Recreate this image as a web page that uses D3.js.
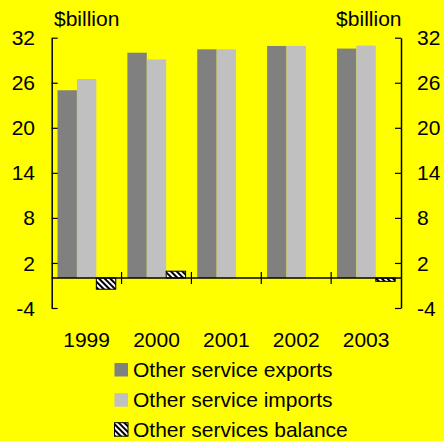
<!DOCTYPE html>
<html>
<head>
<meta charset="utf-8">
<script src="https://cdn.jsdelivr.net/npm/d3@7"></script>
<style>
  html, body { margin: 0; padding: 0; background: #ffff00; }
  svg { display: block; }
  text { font-family: "Liberation Sans", Arial, sans-serif; fill: #000; }
</style>
</head>
<body>
<svg id="chart" width="444" height="441"></svg>
<script>
// Other services trade, $billion
const years = ["1999", "2000", "2001", "2002", "2003"];
const exportsVals = [25.0, 30.0, 30.45, 30.9, 30.55];
const importsVals = [26.5, 29.1, 30.45, 30.9, 30.95];
const balanceVals = [-1.5, 0.9, 0.0, 0.0, -0.45];
const yTicks = [32, 26, 20, 14, 8, 2, -4];
const seriesNames = ["Other service exports", "Other service imports", "Other services balance"];
const seriesKeys = ["exports", "imports", "balance"];

const rows = years.map((yr, i) => ({
  year: yr, exports: exportsVals[i], imports: importsVals[i], balance: balanceVals[i]
}));

const W = 444, H = 441;
const plotLeft = 51.7, plotRight = 401, plotTop = 37.7, plotBottom = 308;
const fs = 21;

const svg = d3.select("#chart");
svg.append("rect").attr("width", W).attr("height", H).attr("fill", "#ffff00");

const defs = svg.append("defs");
const pat = defs.append("pattern")
  .attr("id", "hatch").attr("patternUnits", "userSpaceOnUse")
  .attr("width", 4).attr("height", 4)
  .attr("patternTransform", "rotate(-45)");
pat.append("rect").attr("width", 4).attr("height", 4).attr("fill", "#fff");
pat.append("rect").attr("width", 2).attr("height", 4).attr("fill", "#000");

const y = d3.scaleLinear().domain([-4, 32]).range([plotBottom, plotTop]);
const x = d3.scaleBand().domain(years).range([plotLeft, plotRight]).padding(0);
const xs = d3.scaleBand().domain(seriesKeys).range([0, x.bandwidth()])
  .paddingInner(0).paddingOuter(0.3);

const fills = { exports: "#808080", imports: "#c0c0c0", balance: "url(#hatch)" };

// Bars
const g = svg.append("g");
rows.forEach(r => {
  seriesKeys.forEach(k => {
    const v = r[k];
    if (v === 0) return;
    const rect = g.append("rect")
      .attr("x", x(r.year) + xs(k))
      .attr("width", xs.bandwidth())
      .attr("y", y(Math.max(0, v)))
      .attr("height", Math.abs(y(v) - y(0)))
      .attr("fill", fills[k]);
    if (k === "balance") rect.attr("stroke", "#000").attr("stroke-width", 1);
  });
});

// Zero line and category separators
svg.append("line")
  .attr("x1", plotLeft).attr("x2", plotRight).attr("y1", y(0)).attr("y2", y(0))
  .attr("stroke", "#000").attr("stroke-width", 1.5);
years.slice(1).forEach(yr => {
  svg.append("line")
    .attr("x1", x(yr)).attr("x2", x(yr))
    .attr("y1", y(0) - 6).attr("y2", y(0) + 6)
    .attr("stroke", "#000").attr("stroke-width", 1.2);
});

// Left and right value axes, ticks pointing inward
const axL = d3.axisRight(y).tickValues(yTicks).tickSize(6).tickFormat("").tickSizeOuter(0);
const axR = d3.axisLeft(y).tickValues(yTicks).tickSize(6).tickFormat("").tickSizeOuter(0);
[svg.append("g").attr("transform", `translate(${plotLeft},0)`).call(axL),
 svg.append("g").attr("transform", `translate(${plotRight},0)`).call(axR)].forEach(a => {
  a.select(".domain").attr("stroke", "#000").attr("stroke-width", 1.5);
  a.selectAll(".tick line").attr("stroke", "#000").attr("stroke-width", 1.2);
});

// Tick labels
yTicks.forEach(t => {
  svg.append("text").attr("x", 35).attr("y", y(t)).attr("dy", "0.36em")
    .attr("text-anchor", "end").attr("font-size", fs).text(t);
  svg.append("text").attr("x", 417).attr("y", y(t)).attr("dy", "0.36em")
    .attr("text-anchor", "start").attr("font-size", fs).text(t);
});
years.forEach(yr => {
  svg.append("text").attr("x", x(yr) + x.bandwidth() / 2).attr("y", 346.5)
    .attr("text-anchor", "middle").attr("font-size", fs).text(yr);
});

// Unit labels
svg.append("text").attr("x", 54).attr("y", 26).attr("font-size", fs).text("$billion");
svg.append("text").attr("x", 401.5).attr("y", 26).attr("text-anchor", "end")
  .attr("font-size", fs).text("$billion");

// Legend
const legendBase = [376.8, 407, 436.5];
seriesKeys.forEach((k, i) => {
  const r = svg.append("rect").attr("x", 114.5).attr("y", legendBase[i] - 13.8)
    .attr("width", 13.5).attr("height", 13.5).attr("fill", fills[k]);
  if (k === "balance") r.attr("stroke", "#000").attr("stroke-width", 1);
  svg.append("text").attr("x", 133).attr("y", legendBase[i])
    .attr("font-size", fs).text(seriesNames[i]);
});
</script>
</body>
</html>
